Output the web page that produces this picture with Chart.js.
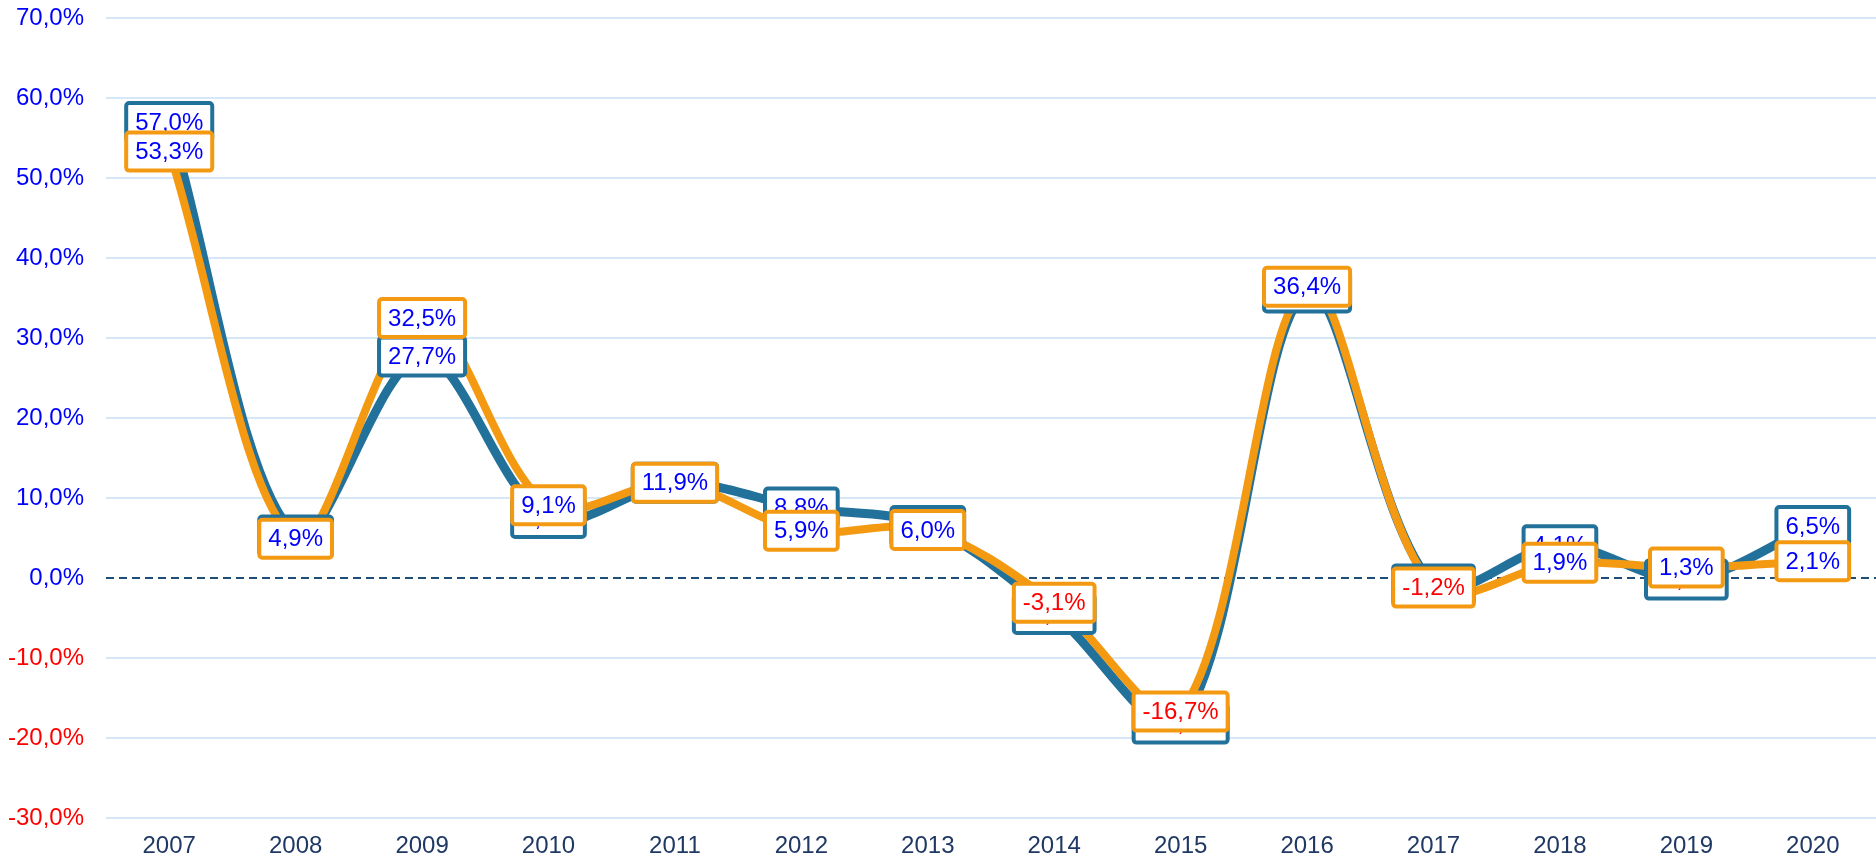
<!DOCTYPE html>
<html>
<head>
<meta charset="utf-8">
<script src="https://cdn.jsdelivr.net/npm/chart.js@4.4.1/dist/chart.umd.min.js"></script>
<style>
    html, body { margin: 0; padding: 0; background: #fff; }
    #wrap { width: 1876px; height: 859px; }
</style>
</head>
<body>
<div id="wrap"><canvas id="growthChart" width="1876" height="859"></canvas></div>
<script>
const years = ['2007', '2008', '2009', '2010', '2011', '2012', '2013', '2014', '2015', '2016', '2017', '2018', '2019', '2020'];
const blueValues = [57.0, 5.3, 27.7, 7.5, 11.9, 8.8, 6.5, -4.5, -18.2, 35.7, -0.8, 4.1, -0.2, 6.5];
const orangeValues = [53.3, 4.9, 32.5, 9.1, 11.9, 5.9, 6.0, -3.1, -16.7, 36.4, -1.2, 1.9, 1.3, 2.1];
// the source writes this one label with a dot
const blueLabelOverrides = { 10: '-0.8%' };

const BLUE = '#21719b';
const ORANGE = '#f39a12';
const FONT = "'Liberation Sans', Arial, sans-serif";

function pct(v) {
    return v.toFixed(1).replace('.', ',') + '%';
}

// dashed line at 0%
const zeroLine = {
    id: 'zeroLine',
    beforeDatasetsDraw(chart) {
        const y = chart.scales.y.getPixelForValue(0);
        const ctx = chart.ctx;
        ctx.save();
        ctx.strokeStyle = '#1f4e79';
        ctx.lineWidth = 2;
        ctx.setLineDash([8, 5]);
        ctx.beginPath();
        ctx.moveTo(chart.chartArea.left, y);
        ctx.lineTo(chart.chartArea.right, y);
        ctx.stroke();
        ctx.restore();
    }
};

// boxed value labels, blue first so orange sits on top
const boxLabels = {
    id: 'boxLabels',
    afterDatasetsDraw(chart) {
        const ctx = chart.ctx;
        ctx.save();
        ctx.font = '24px ' + FONT;
        ctx.textAlign = 'center';
        ctx.textBaseline = 'middle';
        [0, 1].forEach(di => {
            const ds = chart.data.datasets[di];
            const meta = chart.getDatasetMeta(di);
            meta.data.forEach((pt, i) => {
                const v = ds.data[i];
                let text = pct(v);
                if (di === 0 && blueLabelOverrides[i]) text = blueLabelOverrides[i];
                const w = ctx.measureText(text).width + 18;
                const h = 38;
                const x = pt.x - w / 2;
                const y = pt.y - h / 2;
                ctx.fillStyle = '#ffffff';
                ctx.strokeStyle = ds.borderColor;
                ctx.lineWidth = 4;
                ctx.beginPath();
                ctx.roundRect(x, y, w, h, 3);
                ctx.fill();
                ctx.stroke();
                ctx.fillStyle = v < 0 ? '#ff0000' : '#0000ff';
                ctx.fillText(text, pt.x, pt.y + 1);
            });
        });
        ctx.restore();
    }
};

const ctx = document.getElementById('growthChart').getContext('2d');
new Chart(ctx, {
    type: 'line',
    data: {
        labels: years,
        datasets: [
            {
                label: 'Serie 1',
                data: blueValues,
                borderColor: BLUE,
                borderWidth: 9,
                pointRadius: 0,
                tension: 0.33,
                fill: false,
                order: 2
            },
            {
                label: 'Serie 2',
                data: orangeValues,
                borderColor: ORANGE,
                borderWidth: 8,
                pointRadius: 0,
                tension: 0.33,
                fill: false,
                order: 1
            }
        ]
    },
    options: {
        responsive: false,
        animation: false,
        events: [],
        layout: { padding: { top: 18, right: 0, left: 0, bottom: 0 } },
        plugins: {
            legend: { display: false },
            tooltip: { enabled: false }
        },
        scales: {
            x: {
                offset: true,
                grid: { display: false },
                border: { display: false },
                ticks: {
                    color: '#1f3864',
                    font: { family: FONT, size: 24 },
                    padding: 6
                },
                afterFit(scale) {
                    scale.height = 41;
                    scale.paddingLeft = 0;
                    scale.paddingRight = 0;
                }
            },
            y: {
                min: -30,
                max: 70,
                border: { display: false },
                grid: {
                    color: c => c.tick && c.tick.value === 0 ? 'rgba(0,0,0,0)' : '#d6e8f7',
                    lineWidth: 2,
                    drawTicks: false
                },
                ticks: {
                    stepSize: 10,
                    padding: 22,
                    color: c => c.tick.value < 0 ? '#ff0000' : '#0000ff',
                    font: { family: FONT, size: 24 },
                    callback: v => pct(v)
                },
                afterFit(scale) {
                    scale.width = 106;
                    scale.paddingTop = 0;
                    scale.paddingBottom = 0;
                }
            }
        }
    },
    plugins: [zeroLine, boxLabels]
});
</script>
</body>
</html>
